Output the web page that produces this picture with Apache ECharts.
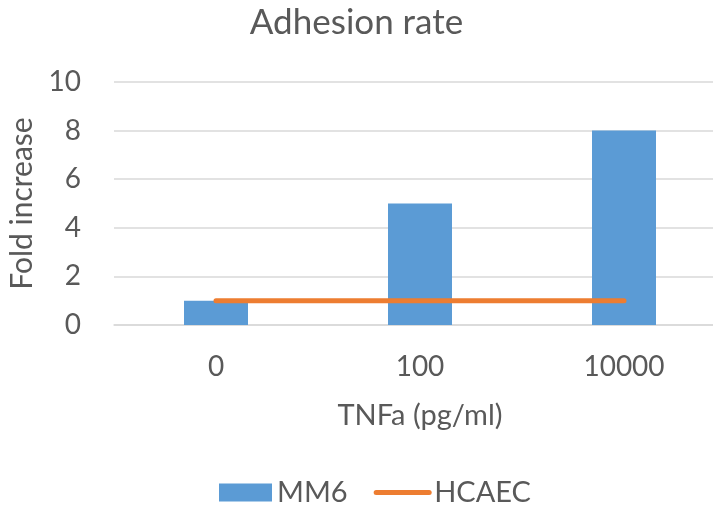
<!DOCTYPE html>
<html>
<head>
<meta charset="utf-8">
<script src="https://cdn.jsdelivr.net/npm/echarts@6/dist/echarts.min.js"></script>
<style>html,body{margin:0;padding:0;background:#fff;}#c{width:713px;height:505px;}</style>
</head>
<body>
<div id="c"></div>
<script>
const categories = ['0', '100', '10000'];
const mm6Values = [1, 5, 8];
const hcaecValues = [1, 1, 1];
const yTicks = [0, 2, 4, 6, 8, 10];

const FONT = 'Lato';
const TXT = '#595959';
const chart = echarts.init(document.getElementById('c'), null, {renderer: 'canvas'});
chart.setOption({
  animation: false,
  backgroundColor: '#ffffff',
  title: {
    text: 'Adhesion rate',
    left: 'center',
    top: 0,
    textStyle: {fontFamily: FONT, fontSize: 35, fontWeight: 'normal', color: TXT}
  },
  legend: {
    left: 219,
    top: 478,
    padding: 0,
    itemWidth: 53,
    itemHeight: 18,
    itemGap: 26,
    textStyle: {fontFamily: FONT, fontSize: 29, color: TXT},
    data: [
      {name: 'MM6', icon: 'rect'},
      {name: 'HCAEC', itemStyle: {opacity: 0}, lineStyle: {color: '#ED7D31', width: 5, cap: 'round'}}
    ]
  },
  grid: {left: 114, width: 612, top: 82, bottom: 180, outerBoundsMode: 'none', containLabel: false},
  xAxis: {
    type: 'category',
    data: categories,
    name: 'TNFa (pg/ml)',
    nameLocation: 'middle',
    nameGap: 76,
    nameTextStyle: {fontFamily: FONT, fontSize: 29, color: TXT},
    axisLine: {lineStyle: {color: '#D9D9D9', width: 1.5}},
    axisTick: {show: false},
    axisLabel: {fontFamily: FONT, fontSize: 28, color: TXT, margin: 28}
  },
  yAxis: {
    type: 'value',
    min: yTicks[0],
    max: yTicks[yTicks.length - 1],
    interval: yTicks[1] - yTicks[0],
    name: 'Fold increase',
    nameLocation: 'middle',
    nameGap: 72,
    nameTextStyle: {fontFamily: FONT, fontSize: 30, color: TXT},
    axisLine: {show: false},
    axisTick: {show: false},
    axisLabel: {fontFamily: FONT, fontSize: 28, color: TXT, margin: 33},
    splitLine: {lineStyle: {color: '#D9D9D9', width: 1.5}}
  },
  series: [
    {
      name: 'MM6',
      type: 'bar',
      data: mm6Values,
      barWidth: 64,
      itemStyle: {color: '#5B9BD5'}
    },
    {
      name: 'HCAEC',
      type: 'line',
      data: hcaecValues,
      symbol: 'none',
      lineStyle: {color: '#ED7D31', width: 5, cap: 'round'},
      itemStyle: {color: '#ED7D31'}
    }
  ]
});
</script>
</body>
</html>
